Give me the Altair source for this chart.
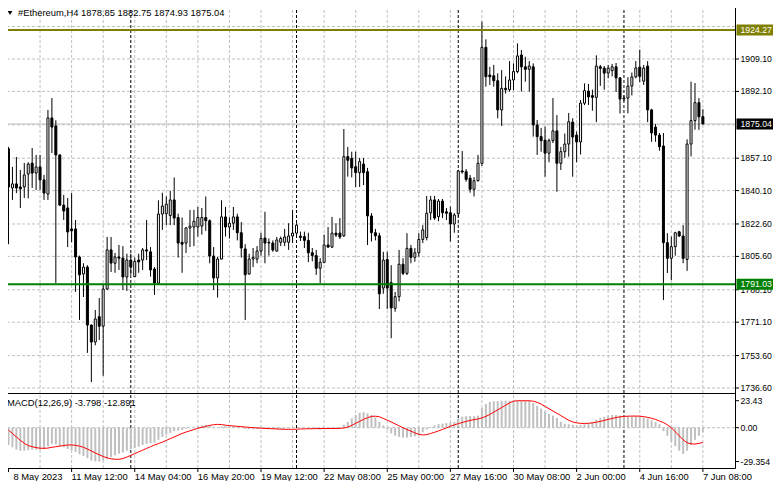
import altair as alt
import pandas as pd

symbol_title = "#Ethereum,H4  1878.85 1882.75 1874.93 1875.04"
macd_title = "MACD(12,26,9) -3.798 -12.891"

opens = [
    1862, 1841.5, 1843.6, 1842, 1842, 1848.8, 1854.5, 1849.3, 1852.5, 1845.7,
    1838.3, 1878.2, 1874, 1858.8, 1832.5, 1831, 1820, 1820, 1805.3, 1796.4,
    1800, 1769.6, 1760.7, 1774, 1769, 1788.5, 1809, 1802, 1805.3, 1804.7,
    1794.8, 1803.7, 1795, 1803.7, 1803.7, 1809, 1808, 1799, 1791.6, 1827.8,
    1828, 1827, 1835.2, 1826, 1813, 1812.6, 1820.5, 1821, 1821, 1821.5,
    1826, 1824.3, 1805.8, 1794.3, 1804.2, 1826.3, 1821, 1823, 1826.3, 1818,
    1809.5, 1796.4, 1804.2, 1804.2, 1808.4, 1815.2, 1812.6, 1812.6, 1808.4, 1813,
    1813, 1813, 1816.3, 1817.8, 1816.2, 1816, 1814, 1807.5, 1806, 1799.4,
    1802.5, 1811.6, 1810.5, 1817.8, 1817.8, 1816.4, 1857.9, 1857, 1852.6, 1849.5,
    1854, 1850, 1826.8, 1818, 1816.4, 1789, 1804, 1791.8, 1778.4, 1784.5,
    1801.5, 1796.7, 1809.8, 1805.1, 1807.5, 1814.5, 1815.5, 1828.5, 1835.2, 1826.4,
    1834.6, 1829, 1828.5, 1822.6, 1828, 1850.4, 1850, 1846.6, 1840.8, 1845.3,
    1854.4, 1915.2, 1900.7, 1900.3, 1897.7, 1882.4, 1893.7, 1893, 1898.1, 1902.5,
    1911.2, 1905, 1903.7, 1905, 1874.5, 1868.4, 1866.6, 1859.7, 1866.3, 1871.4,
    1854.4, 1860.5, 1864.5, 1876, 1869.2, 1865.6, 1885.9, 1892.3, 1889.9, 1889,
    1905, 1904.3, 1901.7, 1903, 1905, 1899.2, 1888.1, 1888.6, 1894.9, 1899.7,
    1904.8, 1897.5, 1905.4, 1882.4, 1873.4, 1869.2, 1863.5, 1812.8, 1804.6, 1810.7,
    1818.5, 1816.3, 1804, 1864.5, 1876.8, 1886.2, 1878.85,
]
highs = [
    1863, 1852.5, 1857.7, 1850.9, 1854.6, 1855, 1862.4, 1858.8, 1858.8, 1848.3,
    1882.4, 1888.6, 1877, 1859, 1837.8, 1836.2, 1838.8, 1824.7, 1806, 1802,
    1801, 1770, 1777.5, 1783.8, 1791, 1815.8, 1815.8, 1807.4, 1811.6, 1811,
    1807, 1807, 1805, 1807, 1810, 1824.7, 1810.5, 1800, 1835, 1839,
    1837, 1840, 1847, 1828, 1826, 1821, 1830, 1830, 1831.5, 1831,
    1837, 1825, 1810.5, 1805.3, 1835, 1831.5, 1826, 1831.5, 1828, 1823.6,
    1812, 1807, 1810, 1811, 1818, 1829, 1815, 1814, 1815.8, 1816,
    1820, 1823, 1830, 1823, 1818.6, 1818.6, 1818, 1810, 1809, 1804.7,
    1817, 1821, 1826.3, 1823, 1825.7, 1872.4, 1863, 1860.5, 1860.5, 1857.2,
    1857.2, 1852, 1828.3, 1820, 1818, 1808, 1808, 1801, 1787, 1809,
    1804.7, 1817.8, 1811.6, 1810, 1817.8, 1822, 1837.3, 1837.3, 1837.3, 1835.7,
    1835.7, 1831, 1831.7, 1828.3, 1851, 1860.9, 1851.4, 1848.3, 1847.2, 1858.8,
    1928.7, 1919.4, 1905, 1906, 1901.6, 1903.3, 1900, 1908, 1906.8, 1917.3,
    1913.8, 1910.3, 1908, 1906.8, 1877.1, 1873, 1873.6, 1867.4, 1888.6, 1879.7,
    1863, 1870, 1880.8, 1878, 1871, 1887.6, 1896.3, 1896, 1893, 1911,
    1906, 1905.4, 1906, 1906.5, 1907, 1899.5, 1890, 1899.5, 1902, 1908,
    1914, 1906, 1908, 1883, 1875, 1870.3, 1870.3, 1817.8, 1816, 1818.5,
    1819, 1822, 1867, 1897.2, 1896.5, 1888.6, 1882.75,
]
lows = [
    1812, 1835.2, 1838.8, 1831, 1836.2, 1836, 1841.5, 1840.4, 1840.4, 1835.2,
    1835.2, 1859.8, 1791.6, 1832, 1824.7, 1810.5, 1813, 1787, 1772.3, 1784.3,
    1755, 1739.7, 1759, 1761.8, 1743, 1788, 1797.4, 1797, 1798.5, 1788,
    1787.5, 1796, 1795, 1797, 1798.5, 1803.7, 1795, 1785.4, 1791, 1819.5,
    1822, 1822, 1822, 1805, 1797, 1807.4, 1810.5, 1811, 1816, 1817,
    1819, 1802, 1788, 1784, 1804, 1816, 1815, 1819.5, 1814, 1805,
    1772.3, 1796, 1800, 1802, 1806, 1802, 1806, 1808, 1808, 1811,
    1811, 1809, 1812.6, 1816, 1813.7, 1810, 1802.6, 1803, 1795.9, 1791.6,
    1802, 1810, 1810, 1815.8, 1814.7, 1815.8, 1847.4, 1847, 1842, 1842,
    1843, 1811.6, 1813.4, 1814, 1778, 1786, 1778, 1762.7, 1776.6, 1782,
    1795.8, 1795.8, 1802, 1802.8, 1805.5, 1812.6, 1814, 1824.7, 1824.7, 1824,
    1825.7, 1824.7, 1813.4, 1818, 1826.4, 1849, 1844.8, 1839, 1837, 1844.8,
    1853, 1894.6, 1895.5, 1894.6, 1878, 1874, 1891, 1892, 1892.8, 1901.6,
    1892, 1897.2, 1892, 1868.4, 1858.8, 1860.5, 1847.4, 1855, 1865, 1839.5,
    1850.9, 1857.2, 1857.9, 1847.4, 1855, 1859, 1884.9, 1885, 1882, 1876,
    1895, 1893, 1899, 1900, 1891.8, 1880.5, 1887, 1880.6, 1890, 1899,
    1897, 1895.5, 1876, 1865.7, 1865.7, 1861, 1782.7, 1796.9, 1793.2, 1806,
    1815.8, 1802, 1798, 1858, 1872, 1871.9, 1874.93,
]
closes = [
    1842, 1843.6, 1841.5, 1841, 1848.3, 1854, 1849.3, 1852.5, 1845.7, 1838.8,
    1878.2, 1873.4, 1858.8, 1832.5, 1829.4, 1818.4, 1819, 1805.3, 1795.9, 1800,
    1769.6, 1760.7, 1772.8, 1769, 1788.5, 1809, 1802.1, 1805.3, 1804.7, 1794.8,
    1803.7, 1800, 1803, 1802.7, 1809, 1808.4, 1798.5, 1791.6, 1827.8, 1832,
    1833, 1835.2, 1825.7, 1812.6, 1812, 1820.5, 1821.5, 1824, 1826, 1826,
    1824.3, 1805.8, 1794.3, 1804.2, 1826.3, 1821, 1823, 1826.3, 1818, 1810,
    1796, 1804.2, 1805, 1808.4, 1815, 1812.6, 1813, 1809, 1814.2, 1815,
    1815.8, 1816.3, 1817.8, 1822, 1815.5, 1814, 1807.5, 1806, 1799.4, 1802.5,
    1811.6, 1810.5, 1817.8, 1816.8, 1815.8, 1857.9, 1856, 1852, 1849.5, 1855.3,
    1849.5, 1826.8, 1818, 1816.4, 1786, 1803.7, 1789, 1778.6, 1784.5, 1801.5,
    1796.7, 1809.8, 1805.1, 1807.5, 1814.5, 1819.5, 1828.2, 1835.2, 1825.7, 1834.6,
    1828.5, 1828.2, 1822.6, 1827.3, 1850.4, 1849.9, 1846, 1840.8, 1845.3, 1854.4,
    1915.2, 1899.8, 1899.8, 1897.7, 1882.4, 1893.7, 1893, 1898.1, 1902.5, 1910.7,
    1905, 1903.7, 1905.4, 1874.5, 1868.4, 1866.3, 1859.7, 1866.3, 1871.4, 1854.4,
    1860.5, 1864.5, 1876.2, 1868.2, 1865.6, 1886, 1892.5, 1889.2, 1889, 1905.4,
    1904.2, 1901.7, 1904.3, 1905, 1899.2, 1888.1, 1888.6, 1894.9, 1899.7, 1904.4,
    1900, 1904.4, 1882.4, 1870.3, 1869.2, 1863.1, 1812.8, 1804.6, 1810.7, 1818,
    1816.3, 1804.6, 1864.5, 1876.8, 1886.2, 1878.8, 1875.04,
]

macd_main = [
    -15, -17, -19, -20, -20, -19.5, -19, -19, -19, -18.5,
    -16, -14, -14.5, -16, -17, -18.5, -19.5, -21, -23, -24.5,
    -26.5, -28.5, -29.3, -29.35, -28.5, -27, -25.5, -24, -22.5, -21.5,
    -20, -18.5, -17.5, -16.5, -15, -14, -13.5, -13, -10.5, -8,
    -6, -4.5, -3, -2.5, -2, -1, 0, 0.8, 1.5, 2,
    2.5, 2, 0.8, 0.3, 1.2, 1.6, 1.5, 1.4, 1, 0.3,
    -1, -1.3, -1.2, -1, -0.5, -0.8, -1, -1.2, -1.2, -1,
    -0.8, -0.5, -0.3, 0, 0.2, 0.2, -0.2, -0.6, -1.2, -1.6,
    -1.3, -1.2, -0.9, -0.8, -0.8, 2.5, 5, 8, 11, 13,
    13.5, 12.5, 11, 9, 5, 2, -1.5, -5, -7, -8,
    -8.5, -8.5, -8, -7.5, -6, -4, -1.5, 0.5, 2, 3,
    3.5, 4, 4.5, 5, 8, 9.5, 10, 10, 10, 10.5,
    17, 20.5, 22.5, 23, 23, 23.4, 23.4, 23.4, 23.4, 23.4,
    23.4, 23.4, 23.4, 21.5, 19, 16.5, 14, 12, 10.5, 8.5,
    5, 3.5, 3, 2.5, 2, 2.5, 3, 3.5, 5, 7,
    8.5, 9.5, 10.5, 11, 11, 10.5, 10, 10, 10, 10,
    10, 9, 8, 6.5, 5, 3, -3, -7, -12, -16,
    -20, -22.8, -20, -15, -10.5, -7, -3.8,
]
macd_signal = [
    -2, -5, -8, -11, -13.5, -15.5, -16.5, -17.3, -17.8, -17.9,
    -17.7, -17, -16.5, -16, -15.5, -15, -15, -15.3, -16, -17,
    -18.5, -20.2, -22, -23.5, -25, -26.2, -27, -27.4, -27.4, -26.8,
    -25.5, -24, -22.5, -21, -19.5, -18, -16.5, -15, -13.8, -12.5,
    -11, -9.5, -8, -6.5, -5, -3.8, -2.7, -1.6, -0.5, 0.3,
    1.2, 2, 2.6, 2.9, 2.7, 2.2, 1.8, 1.5, 1.2, 0.9,
    0.6, 0.3, 0, -0.2, -0.4, -0.6, -0.8, -0.9, -1.1, -1.3,
    -1.4, -1.4, -1.4, -1.3, -1.1, -1, -0.9, -0.9, -0.8, -0.7,
    -0.7, -0.7, -0.7, -0.6, -0.6, -0.3, 0.6, 2, 3.8, 5.5,
    7.2, 8.7, 9.8, 10, 9.5, 8, 6.6, 5, 3.3, 1.6,
    0, -1.6, -3, -4.5, -5.8, -6.3, -6, -5, -4, -2.8,
    -1.5, -0.2, 1.2, 2.5, 3.5, 4.5, 5.5, 6.3, 7, 7.6,
    8.5, 9.8, 11.5, 13.5, 15.5, 17.5, 19.5, 21.5, 23, 23.4,
    23.4, 23.4, 23.4, 23, 22, 20.5, 18.5, 16.5, 14.5, 12.5,
    10.5, 8.5, 6.5, 5, 4.2, 3.8, 3.7, 3.8, 4.2, 4.8,
    5.5, 6.3, 7.2, 8, 8.8, 9.4, 9.8, 10, 10.1, 10.1,
    10, 9.6, 9, 8.2, 7.2, 5.8, 4.5, 2.5, 0, -3.5,
    -7, -10.5, -13, -14, -14.2, -13.6, -12.9,
]

x_label_pos = [0, 16, 32, 48, 64, 80, 96, 112, 128, 144, 160, 176]
x_labels = ["8 May 2023", "11 May 12:00", "14 May 04:00", "16 May 20:00",
            "19 May 12:00", "22 May 08:00", "25 May 00:00", "27 May 16:00",
            "30 May 08:00", "2 Jun 00:00", "4 Jun 16:00", "7 Jun 08:00"]
grid_pos = [8, 16, 24, 32, 40, 48, 56, 64, 72, 80, 88, 96, 104, 112, 120,
            128, 136, 144, 152, 160, 168, 176]
separator_pos = [31, 73, 114, 156]
price_grid = [1736.6, 1753.6, 1771.1, 1788.1, 1805.6, 1822.6, 1840.1,
              1857.1, 1874.6, 1892.1, 1909.1, 1926.1]
price_labels = [1736.6, 1753.6, 1771.1, 1788.1, 1805.6, 1822.6, 1840.1,
                1857.1, 1892.1, 1909.1]
macd_ticks = [23.43, 0.0, -29.354]
macd_tick_labels = ["23.43", "0.00", "-29.354"]
macd_levels = [0.0]
level_prices = [1924.27, 1791.03]
level_colors = ["#808000", "#008000"]
bid_price = 1875.04
box_prices = [1924.27, 1875.04, 1791.03]
box_labels = ["1924.27", "1875.04", "1791.03"]
box_colors = ["#808000", "#000000", "#008000"]

FONT = "Liberation Sans"
FS_AXIS = 8.7      # right-hand price labels
FS_TIME = 9.4      # bottom time labels
FS_TITLE = 9.4
W = 732            # plot width
P_BOT = 393        # bottom of price panel (px)
M_BOT = 468        # bottom of MACD panel (px)
n = len(closes)
idx = list(range(n))

candles = pd.DataFrame({"idx": idx, "open": opens, "high": highs,
                        "low": lows, "close": closes})
candles["dir"] = ["up" if c >= o else "down" for o, c in zip(opens, closes)]
macd = pd.DataFrame({"idx": idx, "main": macd_main, "signal": macd_signal})

xscale = alt.Scale(domain=[-0.125, n + 5.875], nice=False, zero=False)
xs = alt.X("idx:Q", scale=xscale, axis=None)
pscale = alt.Scale(domain=[1733.98, 1940.03], range=[P_BOT, 0], nice=False, zero=False)
mscale = alt.Scale(domain=[-34.98, 30.12], range=[M_BOT, P_BOT], nice=False, zero=False)


def py(field):
    return alt.Y(field, scale=pscale, axis=None)


def my(field):
    return alt.Y(field, scale=mscale, axis=None)


grid_df = pd.DataFrame({"idx": grid_pos})
sep_df = pd.DataFrame({"idx": separator_pos})
pgrid_df = pd.DataFrame({"p": price_grid})
plab_df = pd.DataFrame({"p": price_labels, "t": [f"{v:.2f}" for v in price_labels]})
mtick_df = pd.DataFrame({"v": macd_ticks, "t": macd_tick_labels})
xlab_df = pd.DataFrame({"idx": x_label_pos, "t": x_labels})
title_df = pd.DataFrame({"t": [symbol_title]})

layers = []
# grids
layers.append(alt.Chart(grid_df).mark_rule(color="#c0c0c0", strokeDash=[3, 2]).encode(x=xs))
layers.append(alt.Chart(pgrid_df).mark_rule(color="#c0c0c0", strokeDash=[3, 2]).encode(y=py("p:Q")))
layers.append(alt.Chart(pd.DataFrame({"v": macd_levels})).mark_rule(
    color="#c0c0c0", strokeDash=[3, 2]).encode(y=my("v:Q")))
# period separators
layers.append(alt.Chart(sep_df).mark_rule(color="black", strokeDash=[3, 2]).encode(x=xs))
# bid line
layers.append(alt.Chart(pd.DataFrame({"p": [bid_price]})).mark_rule(color="#c0c0c0").encode(y=py("p:Q")))
# candles
layers.append(alt.Chart(candles).mark_rule(color="black", strokeWidth=1).encode(
    x=xs, y=py("low:Q"), y2="high:Q"))
layers.append(alt.Chart(candles).mark_bar(size=2, stroke="black", strokeWidth=1).encode(
    x=xs, y=py("open:Q"), y2="close:Q",
    color=alt.Color("dir:N", scale=alt.Scale(domain=["up", "down"],
                                             range=["#ffffff", "#000000"]),
                    legend=None)))
# horizontal levels
layers.append(alt.Chart(pd.DataFrame({"p": level_prices, "c": level_colors})).mark_rule(
    strokeWidth=2).encode(y=py("p:Q"), color=alt.Color("c:N", scale=None)))
# MACD
layers.append(alt.Chart(macd).mark_bar(size=2, color="#c0c0c0").encode(
    x=xs, y=my("main:Q"), y2=alt.datum(0)))
layers.append(alt.Chart(macd).mark_line(color="#ff0000", strokeWidth=1).encode(
    x=xs, y=my("signal:Q")))
# panel divider
layers.append(alt.Chart(title_df).mark_rule(color="black", strokeWidth=1).encode(
    x=alt.value(0), x2=alt.value(W), y=alt.value(P_BOT + 0.5)))
# right axis ticks + labels (price)
layers.append(alt.Chart(plab_df).mark_rule(color="black").encode(
    x=alt.value(W), x2=alt.value(W + 4), y=py("p:Q")))
layers.append(alt.Chart(plab_df).mark_text(
    align="left", baseline="middle", font=FONT, fontSize=FS_AXIS, color="black").encode(
    x=alt.value(W + 5.5), y=py("p:Q"), text="t:N"))
# right axis ticks + labels (MACD)
layers.append(alt.Chart(mtick_df).mark_rule(color="black").encode(
    x=alt.value(W), x2=alt.value(W + 4), y=my("v:Q")))
layers.append(alt.Chart(mtick_df).mark_text(
    align="left", baseline="middle", font=FONT, fontSize=FS_AXIS, color="black").encode(
    x=alt.value(W + 5.5), y=my("v:Q"), text="t:N"))
# price label boxes
box_df = pd.DataFrame({"p": box_prices, "t": box_labels, "c": box_colors})
layers.append(alt.Chart(box_df).mark_rect(yOffset=-5.5, y2Offset=5.5).encode(
    x=alt.value(W + 1.5), x2=alt.value(W + 43.5), y=py("p:Q"), y2="p:Q",
    color=alt.Color("c:N", scale=None)))
layers.append(alt.Chart(box_df).mark_text(
    align="left", baseline="middle", font=FONT, fontSize=FS_AXIS, color="white").encode(
    x=alt.value(W + 5.5), y=py("p:Q"), text="t:N"))
# bottom time axis
layers.append(alt.Chart(xlab_df).mark_rule(color="black").encode(
    x=xs, y=alt.value(M_BOT), y2=alt.value(M_BOT + 4)))
layers.append(alt.Chart(xlab_df.iloc[:1]).mark_text(
    align="left", baseline="top", font=FONT, fontSize=FS_TIME, color="black", dx=5).encode(
    x=xs, y=alt.value(M_BOT + 5), text="t:N"))
layers.append(alt.Chart(xlab_df.iloc[1:]).mark_text(
    align="left", baseline="top", font=FONT, fontSize=FS_TIME, color="black").encode(
    x=xs, y=alt.value(M_BOT + 5), text="t:N"))
# titles (kept just inside the visible top edge)
layers.append(alt.Chart(title_df).mark_text(
    align="left", baseline="top", font=FONT, fontSize=FS_TITLE, color="black").encode(
    x=alt.value(15), y=alt.value(9), text="t:N"))
layers.append(alt.Chart(title_df).mark_point(
    shape="triangle-down", filled=True, color="black", size=22, opacity=1).encode(
    x=alt.value(7), y=alt.value(13)))
layers.append(alt.Chart(pd.DataFrame({"t": [macd_title]})).mark_text(
    align="left", baseline="middle", font=FONT, fontSize=FS_TITLE, color="black").encode(
    x=alt.value(4), y=alt.value(P_BOT + 10), text="t:N"))

chart = alt.layer(*layers).resolve_scale(y="independent").properties(
    width=W, height=M_BOT,
    autosize=alt.AutoSizeParams(type="none"),
    padding={"left": -5, "top": -8, "right": 38, "bottom": 13},
).configure_view(stroke="black", strokeWidth=1)

chart.save("out.html", embed_options={"renderer": "svg", "actions": False})
